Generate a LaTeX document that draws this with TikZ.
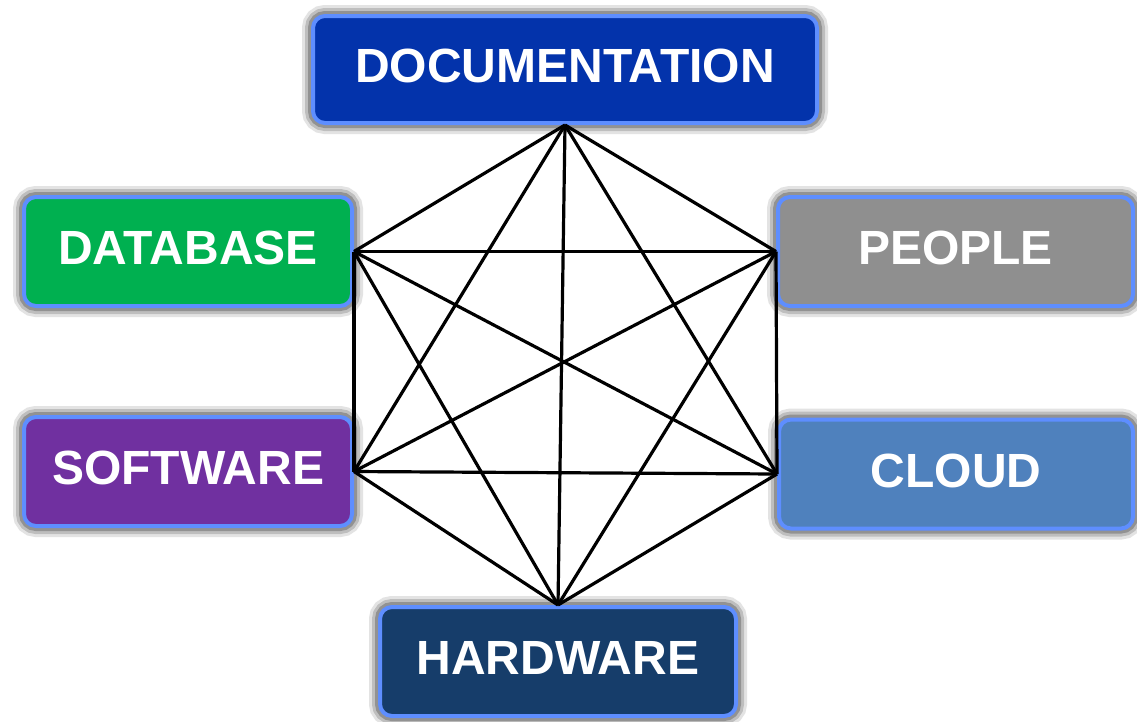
\documentclass[tikz,border=0pt]{standalone}
\usepackage{fontspec}
\setmainfont{Liberation Sans}
\begin{document}
\begin{tikzpicture}[x=1pt, y=-1pt,
  box/.style={draw=edgeblue, line width=4pt, rounded corners=12pt,
    text=white, font=\fontsize{48}{48}\selectfont\bfseries,
    text height=34.4pt, text depth=8pt, inner sep=0pt,
    minimum height=109pt,
    preaction={draw=black!60, draw opacity=0.18, line width=22pt},
    preaction={draw=black!60, draw opacity=0.30, line width=16pt},
    preaction={draw=black!60, draw opacity=0.50, line width=10pt}},
  link/.style={line width=3.2pt, black}]
\definecolor{edgeblue}{RGB}{94,142,255}
\definecolor{docblue}{RGB}{3,51,171}
\definecolor{dbgreen}{RGB}{0,176,80}
\definecolor{pplgray}{RGB}{143,143,143}
\definecolor{swpurple}{RGB}{112,48,160}
\definecolor{cloudblue}{RGB}{79,129,189}
\definecolor{hwnavy}{RGB}{22,61,106}
\useasboundingbox (0,0) rectangle (1137,721);

\node[box, fill=docblue,   minimum width=504pt, minimum height=107pt] (doc)  at (565,69.5)  {DOCUMENTATION};
\node[box, fill=dbgreen,   minimum width=328pt] (db)   at (188,251.5)  {DATABASE};
\node[box, fill=pplgray,   minimum width=355pt] (ppl)  at (955.5,251.5) {PEOPLE};
\node[box, fill=swpurple,  minimum width=328pt] (sw)   at (188,471.5)  {SOFTWARE};
\node[box, fill=cloudblue, minimum width=354pt] (cld)  at (956,474)    {CLOUD};
\node[box, fill=hwnavy,    minimum width=356pt] (hw)   at (558,661.5)  {HARDWARE};

% every box is linked to every other one
\draw[link] (doc.south) -- (db.east);
\draw[link] (doc.south) -- (ppl.west);
\draw[link] (doc.south) -- (sw.east);
\draw[link] (doc.south) -- (cld.west);
\draw[link] (doc.south) -- (hw.north);
\draw[link] (db.east) -- (ppl.west);
\draw[link] (db.east) -- (sw.east);
\draw[link] (db.east) -- (cld.west);
\draw[link] (db.east) -- (hw.north);
\draw[link] (ppl.west) -- (sw.east);
\draw[link] (ppl.west) -- (cld.west);
\draw[link] (ppl.west) -- (hw.north);
\draw[link] (sw.east) -- (cld.west);
\draw[link] (sw.east) -- (hw.north);
\draw[link] (cld.west) -- (hw.north);
\end{tikzpicture}
\end{document}
